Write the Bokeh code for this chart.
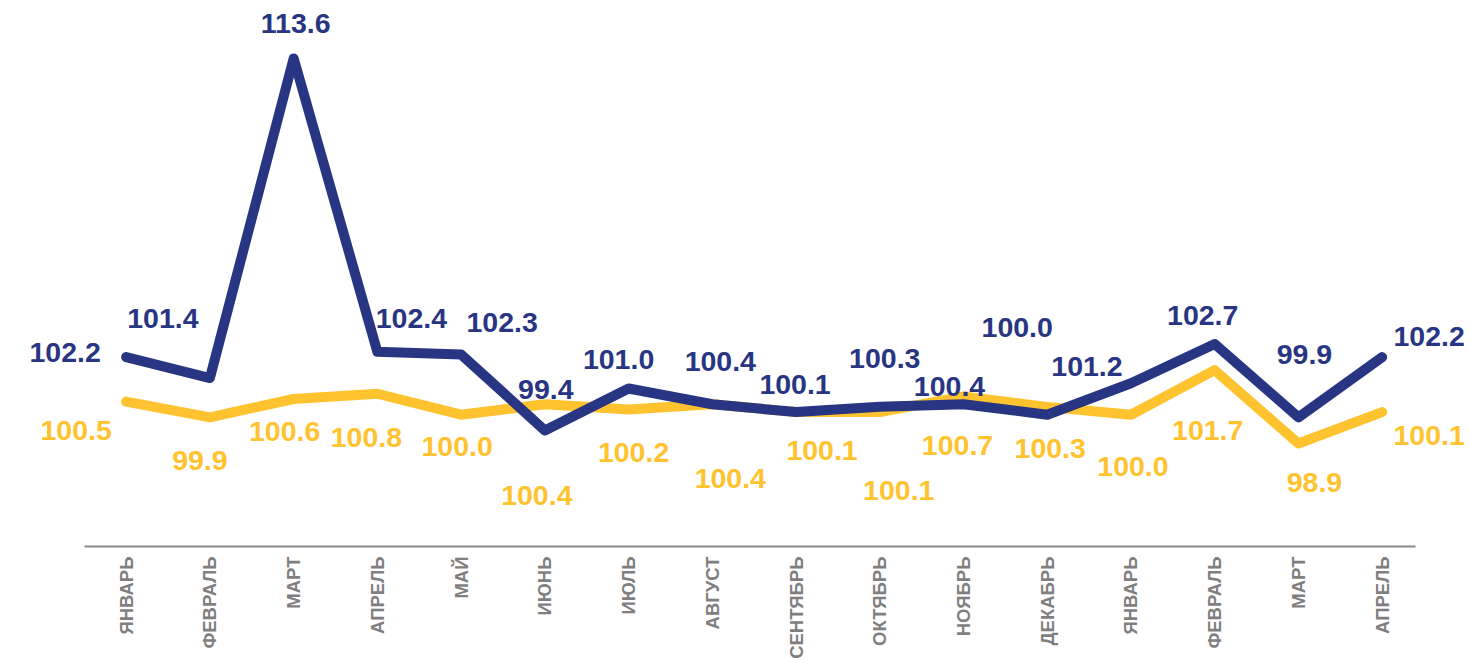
import math
from bokeh.plotting import figure
from bokeh.models import ColumnDataSource, FixedTicker, Range1d, LabelSet
from bokeh.core.properties import value
from bokeh.embed import file_html
from bokeh.resources import INLINE

# ---- data ----
months = ["ЯНВАРЬ", "ФЕВРАЛЬ", "МАРТ", "АПРЕЛЬ", "МАЙ", "ИЮНЬ", "ИЮЛЬ", "АВГУСТ",
          "СЕНТЯБРЬ", "ОКТЯБРЬ", "НОЯБРЬ", "ДЕКАБРЬ", "ЯНВАРЬ", "ФЕВРАЛЬ", "МАРТ", "АПРЕЛЬ"]
blue_values = [102.2, 101.4, 113.6, 102.4, 102.3, 99.4, 101.0, 100.4,
               100.1, 100.3, 100.4, 100.0, 101.2, 102.7, 99.9, 102.2]
yellow_values = [100.5, 99.9, 100.6, 100.8, 100.0, 100.4, 100.2, 100.4,
                 100.1, 100.1, 100.7, 100.3, 100.0, 101.7, 98.9, 100.1]

# ---- label placement (screen pixel offsets: right / down; style only) ----
blue_dx = [-61, -47, 2, 34, 41, 1, -10, 8, -1, 5, -14, -30, -44, -12, 6, 47]
blue_dy = [-5, -60, -35, -33, -32, -41, -29, -43, -28, -48, -18, -87, -17, -28, -63, -21]
yellow_dx = [-50, -10, -9, -11, -4, -8, 5, 18, 26, 19, -6, 3, 2, -7, 16, 47]
yellow_dy = [29, 43, 33, 44, 32, 91, 43, 74, 38, 78, 49, 42, 52, 60, 39, 23]

BLUE = "#283583"
YELLOW = "#FFC32F"
GRAY = "#7F7F7F"
FONT = "Liberation Sans"

xs = list(range(len(months)))

src = ColumnDataSource(dict(
    x=xs, blue=blue_values, yellow=yellow_values,
    blue_lbl=[f"{v:.1f}" for v in blue_values],
    yellow_lbl=[f"{v:.1f}" for v in yellow_values],
    bdx=blue_dx, bdy=[-d for d in blue_dy],
    ydx=yellow_dx, ydy=[-d for d in yellow_dy],
))

p = figure(width=1470, height=661, output_backend="svg", toolbar_location=None,
           x_range=Range1d(-1.501, 16.055), y_range=Range1d(94.97, 115.81),
           min_border_left=0, min_border_right=0, min_border_top=0,
           min_border_bottom=115)

p.line("x", "yellow", source=src, line_color=YELLOW, line_width=10,
       line_cap="round", line_join="round")
p.line("x", "blue", source=src, line_color=BLUE, line_width=10,
       line_cap="round", line_join="round")

for col, lbl, dx, dy, color in [("blue", "blue_lbl", "bdx", "bdy", BLUE),
                                ("yellow", "yellow_lbl", "ydx", "ydy", YELLOW)]:
    p.add_layout(LabelSet(x="x", y=col, text=lbl, source=src,
                          x_offset=dx, y_offset=dy,
                          text_color=color, text_font=value(FONT),
                          text_font_style="bold", text_font_size="28.5px",
                          text_align="center", text_baseline="middle"))

p.yaxis.visible = False
p.xgrid.visible = False
p.ygrid.visible = False
p.outline_line_color = None

ax = p.xaxis[0]
ax.bounds = (-0.5, 15.4)
ax.ticker = FixedTicker(ticks=xs)
ax.major_label_overrides = {i: m for i, m in enumerate(months)}
ax.major_label_orientation = math.pi / 2
ax.major_label_text_font = FONT
ax.major_label_text_font_style = "bold"
ax.major_label_text_font_size = "18.5px"
ax.major_label_text_color = GRAY
ax.major_label_standoff = 10
ax.major_tick_line_color = None
ax.minor_tick_line_color = None
ax.major_tick_in = 0
ax.major_tick_out = 0
ax.minor_tick_in = 0
ax.minor_tick_out = 0
ax.axis_line_color = "#898989"
ax.axis_line_width = 2

open("out.html", "w").write(file_html(p, INLINE))
